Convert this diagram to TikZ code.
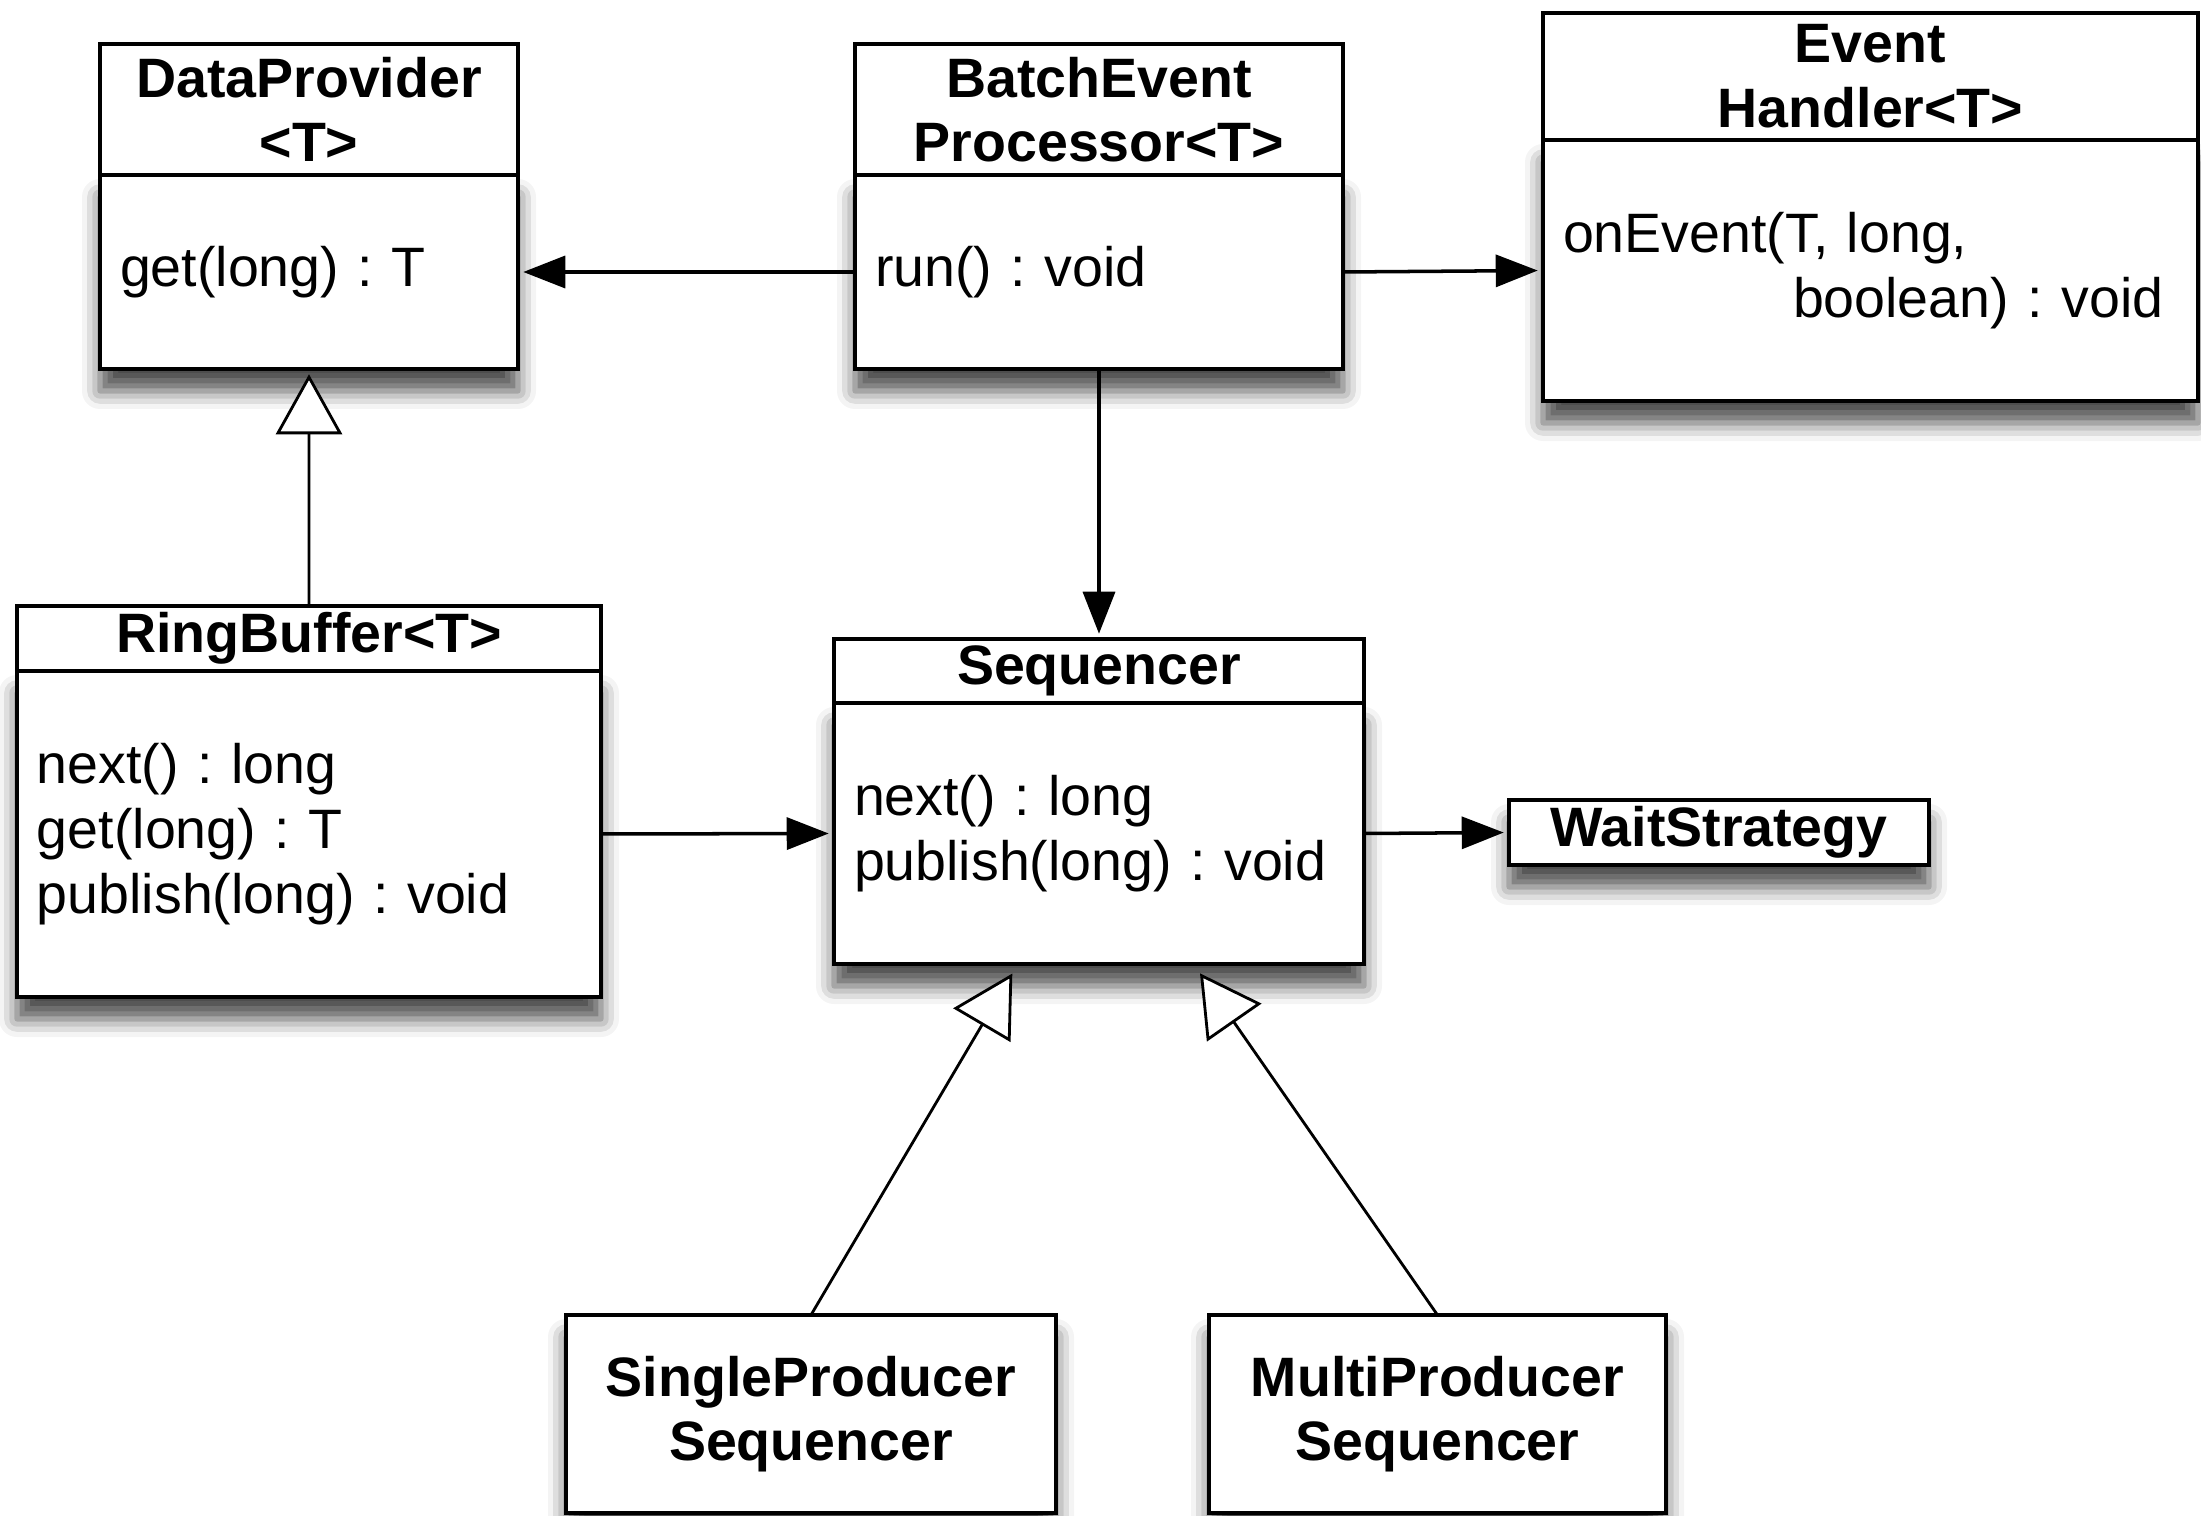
\documentclass[tikz,border=0pt]{standalone}
\usepackage{fontspec}
\setmainfont{Liberation Sans}
\usepackage{tikz}
\usetikzlibrary{positioning}
\usetikzlibrary{arrows.meta}
\usetikzlibrary{shadows.blur}
\frenchspacing

\begin{document}
\begin{tikzpicture}[
  font=\fontsize{15.8}{18.4}\selectfont,
  umlshadow/.style={blur shadow={shadow xshift=0pt, shadow yshift=-0.22cm, shadow blur radius=0.18cm, shadow opacity=70}},
  head/.style={draw, line width=1.2pt, fill=white, outer sep=0pt, inner sep=0pt, align=center, font=\fontsize{15.8}{18.4}\selectfont\bfseries},
  body/.style={draw, line width=1.2pt, fill=white, outer sep=0pt, inner xsep=0.2cm, inner ysep=0pt, align=left, umlshadow},
  plainbox/.style={head, umlshadow},
  assoc/.style={line width=1pt, shorten >=1.5pt, -{Triangle[length=0.42cm, width=0.32cm]}},
  inherit/.style={line width=0.8pt, shorten >=1.5pt, -{Triangle[fill=white, length=0.6cm, width=0.66cm]}}
]
\useasboundingbox (0,0) rectangle (22.01,-15.16);

\node[head, minimum width=4.18cm, minimum height=1.31cm, anchor=north west] (dpHead) at (1.00,-0.44) {DataProvider\\<T>};
\node[body, text width=3.78cm, minimum height=1.94cm, below=0pt of dpHead] (dpBody) {get(long) : T};

\node[head, minimum width=4.88cm, minimum height=1.31cm, anchor=north west] (bepHead) at (8.55,-0.44) {BatchEvent\\Processor<T>};
\node[body, text width=4.48cm, minimum height=1.94cm, below=0pt of bepHead] (bepBody) {run() : void};

\node[head, minimum width=6.55cm, minimum height=1.27cm, anchor=north west] (ehHead) at (15.43,-0.13) {Event\\Handler<T>};
\node[body, text width=6.15cm, minimum height=2.61cm, below=0pt of ehHead] (ehBody) {onEvent(T, long,\\\hspace*{2.3cm}boolean) : void};

\node[head, minimum width=5.84cm, minimum height=0.65cm, anchor=north west] (rbHead) at (0.17,-6.06) {RingBuffer<T>};
\node[body, text width=5.44cm, minimum height=3.26cm, below=0pt of rbHead] (rbBody) {next() : long\\get(long) : T\\publish(long) : void};

\node[head, minimum width=5.30cm, minimum height=0.64cm, anchor=north west] (seqHead) at (8.34,-6.39) {Sequencer};
\node[body, text width=4.90cm, minimum height=2.61cm, below=0pt of seqHead] (seqBody) {next() : long\\publish(long) : void};

\node[plainbox, minimum width=4.20cm, minimum height=0.65cm] (waitStrategy) at (17.19,-8.325) {WaitStrategy};

\node[plainbox, minimum width=4.90cm, minimum height=1.98cm, anchor=north west] (spSeq) at (5.66,-13.15) {SingleProducer\\Sequencer};
\node[plainbox, minimum width=4.57cm, minimum height=1.98cm, anchor=north west] (mpSeq) at (12.09,-13.15) {MultiProducer\\Sequencer};

\draw[assoc] (bepBody.west) -- (dpBody.east);
\draw[assoc] (bepBody.east) -- (ehBody.west);
\draw[assoc] (bepBody.south) -- (seqHead.north);
\draw[inherit] (rbHead.north) -- (dpBody.south);
\draw[assoc] (rbBody.east) -- (seqBody.west);
\draw[assoc] (seqBody.east) -- (waitStrategy.west);
\draw[inherit] (spSeq.north) -- ([xshift=-0.84cm,yshift=-0.05cm]seqBody.south);
\draw[inherit] (mpSeq.north) -- ([xshift=0.98cm,yshift=-0.05cm]seqBody.south);
\end{tikzpicture}
\end{document}
